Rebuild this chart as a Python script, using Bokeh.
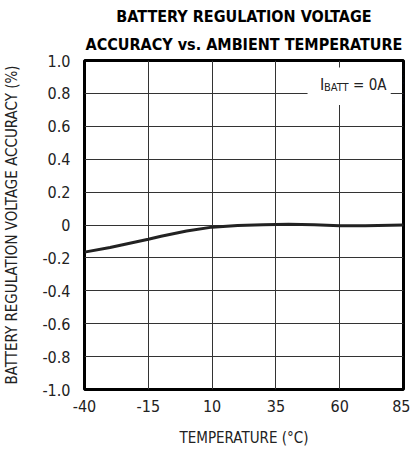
import numpy as np
from bokeh.plotting import figure
from bokeh.models import Range1d, FixedTicker, Title, Label
from bokeh.core.properties import value
from bokeh.embed import file_html
from bokeh.resources import INLINE

# data
temperature = [-40, -30, -20, -15, -10, 0, 10, 20, 30, 40, 50, 60, 70, 85]
accuracy = [-0.165, -0.137, -0.103, -0.087, -0.068, -0.037, -0.013, -0.003, 0.002, 0.005, 0.002, -0.004, -0.004, 0.0]

x_ticks = [-40, -15, 10, 35, 60, 85]
x_tick_labels = ["-40", "-15", "10", "35", "60", "85"]
y_ticks = [-1.0, -0.8, -0.6, -0.4, -0.2, 0.0, 0.2, 0.4, 0.6, 0.8, 1.0]
y_tick_labels = ["-1.0", "-0.8", "-0.6", "-0.4", "-0.2", "0", "0.2", "0.4", "0.6", "0.8", "1.0"]
title_lines = ["BATTERY REGULATION VOLTAGE", "ACCURACY vs. AMBIENT TEMPERATURE"]

FONT = "'DejaVu Sans Condensed', Roboto, sans-serif"

p = figure(width=410, height=450, output_backend="svg", toolbar_location=None,
           x_range=Range1d(-40, 85), y_range=Range1d(-1, 1),
           min_border_left=74, min_border_right=7, min_border_top=60, min_border_bottom=61)
p.title = None
p.background_fill_color = "white"
p.border_fill_color = "white"
p.outline_line_color = "black"
p.outline_line_width = 3

# second line first: it sits nearest the frame
for line, so in zip(reversed(title_lines), [14, 0]):
    t = Title(text=line, align="center", text_font=FONT, text_font_style="bold",
              text_font_size="16px", text_color="black", standoff=so, offset=0)
    p.add_layout(t, "above")

for ax in (p.xaxis, p.yaxis):
    ax.axis_line_color = None
    ax.major_tick_line_color = None
    ax.minor_tick_line_color = None
    ax.major_tick_out = 0
    ax.major_tick_in = 0
    ax.major_label_text_font = FONT
    ax.major_label_text_font_size = "16px"
    ax.major_label_text_color = "#222222"
    ax.axis_label_text_font = FONT
    ax.axis_label_text_font_size = "15px"
    ax.axis_label_text_font_style = "normal"
    ax.axis_label_text_color = "#222222"

p.xaxis.ticker = FixedTicker(ticks=x_ticks)
p.yaxis.ticker = FixedTicker(ticks=y_ticks)
p.xaxis.major_label_overrides = {t: l for t, l in zip(x_ticks, x_tick_labels)}
p.yaxis.major_label_overrides = {t: l for t, l in zip(y_ticks, y_tick_labels)}
p.xaxis.axis_label = "TEMPERATURE (°C)"
p.yaxis.axis_label = "BATTERY REGULATION VOLTAGE ACCURACY (%)"
p.xaxis.major_label_standoff = 10
p.yaxis.major_label_standoff = 14
p.xaxis.axis_label_standoff = 14
p.yaxis.axis_label_standoff = 18

p.grid.grid_line_color = "#333333"
p.grid.grid_line_width = 1
p.xgrid.ticker = FixedTicker(ticks=x_ticks)
p.ygrid.ticker = FixedTicker(ticks=y_ticks)

# white box behind the condition label
p.quad(left=[47.4], right=[80.0], bottom=[0.73], top=[0.957],
       fill_color="white", line_color=None)

p.line(temperature, accuracy, line_color="#222222", line_width=3)

lx, ly = 52.3, 0.854
p.text(x=[lx], y=[ly], text=["I"], text_font=value(FONT), text_font_size="16px",
       text_color="#222222", text_baseline="alphabetic", text_align="left")
p.text(x=[lx], y=[ly], text=["BATT"], x_offset=4, y_offset=3, text_font=value(FONT),
       text_font_size="11px", text_color="#222222", text_baseline="alphabetic", text_align="left")
p.text(x=[lx], y=[ly], text=["= 0A"], x_offset=33, text_font=value(FONT), text_font_size="15px",
       text_color="#222222", text_baseline="alphabetic", text_align="left")

note = Label(x=86.3, y=0.99, text="MAX8814 toc08", angle=-np.pi / 2, text_font=FONT,
             text_font_size="6px", text_color="#666666", text_baseline="middle", text_align="left")
p.add_layout(note)

open("out.html", "w").write(file_html(p, INLINE))
